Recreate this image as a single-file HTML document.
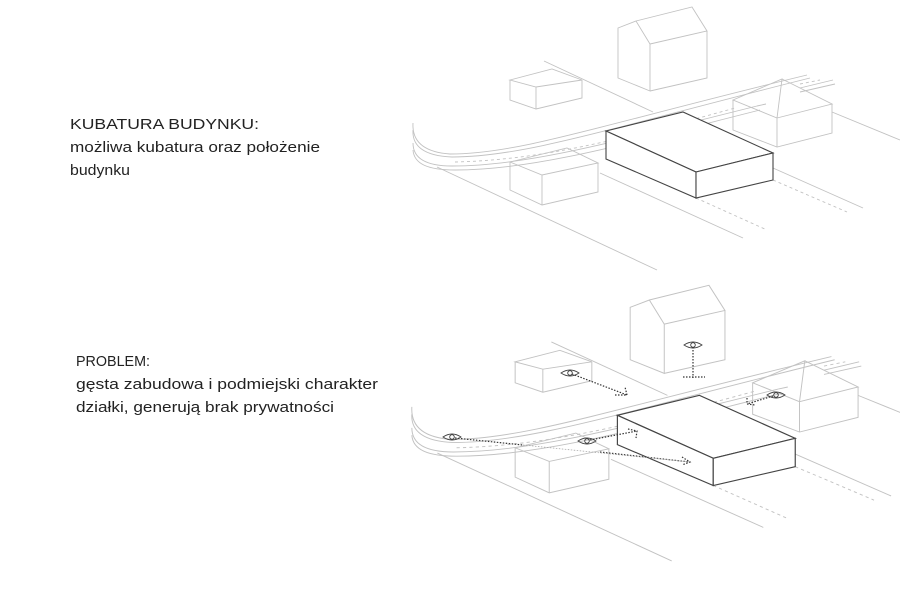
<!DOCTYPE html>
<html><head><meta charset="utf-8"><style>
html,body{margin:0;padding:0;background:#fff;width:900px;height:600px;overflow:hidden}
svg{display:block}
text{font-family:"Liberation Sans",sans-serif;font-size:15px;fill:#222}
</style></head><body>
<svg width="900" height="600" viewBox="0 0 900 600">
<defs>
<g id="scene">
 <g fill="none" stroke="#c2c2c2" stroke-width="0.9">
  <path d="M413,123 C412,140 422,152 450,154 C520,154 600,125 807,75"/>
  <path d="M413,130 C412,146 424,156 452,157 C525,157 610,128 810,78"/>
  <path d="M413,143 C413,158 425,166 452,166 C530,166 620,140 757,106"/>
  <path d="M413,150 C414,164 428,170 455,170 C535,170 625,144 760,110"/>
  <path d="M455,162 C540,160 620,140 735,108" stroke-dasharray="3,3"/>
  <path d="M757,106 L766,104" />
  <path d="M800,88 L833,80 M800,92 L835,84"/>
  <path d="M800,84 L820,80" stroke-dasharray="3,3"/>
  <path d="M437,167 L657,270"/>
  <path d="M600,173 L743,238"/>
  <path d="M773,168 L863,208"/>
  <path d="M696,198 L767,230" stroke-dasharray="3,3"/>
  <path d="M773,180 L847,212" stroke-dasharray="3,3"/>
  <path d="M544,61 L653,112"/>
  <path d="M832,112 L900,140"/>
  <path d="M510,80 L552,69 L582,80 L536,87 Z M510,80 L510,100 L536,109 L582,98 L582,80 M536,87 L536,109"/>
  <path d="M618,28 L636,21 L650,44 L650,91 L618,78 Z M636,21 L692,7 L707,31 L650,44 M707,31 L707,78 L650,91"/>
  <path d="M733,100 L782,79 L777,118 Z M782,79 L832,104 L777,118 M733,100 L733,130 L777,147 L832,133 L832,104 M777,118 L777,147"/>
  <path d="M510,162 L567,148 L598,163 L542,175 Z M510,162 L510,190 L542,205 L598,192 L598,163 M542,175 L542,205"/>
 </g>
 <g fill="#fff" stroke="#444" stroke-width="1.1">
  <path d="M606,131 L683,112 L773,153 L696,172 Z"/>
  <path d="M606,131 L606,159 L696,198 L696,172 Z"/>
  <path d="M696,172 L773,153 L773,180 L696,198 Z"/>
 </g>
</g>
</defs>

<use href="#scene"/>
<g transform="translate(-28,278) scale(1.065,1.048)"><use href="#scene"/></g>

<g fill="none" stroke="#444" stroke-width="0.9">
 <g transform="translate(693,345)"><path d="M-9,0 Q0,-6 9,0 Q0,6 -9,0 Z"/><circle r="2.3"/></g>
 <g transform="translate(570,373)"><path d="M-9,0 Q0,-6 9,0 Q0,6 -9,0 Z"/><circle r="2.3"/></g>
 <g transform="translate(776,395)"><path d="M-9,0 Q0,-6 9,0 Q0,6 -9,0 Z"/><circle r="2.3"/></g>
 <g transform="translate(452,437)"><path d="M-9,0 Q0,-6 9,0 Q0,6 -9,0 Z"/><circle r="2.3"/></g>
 <g transform="translate(587,441)"><path d="M-9,0 Q0,-6 9,0 Q0,6 -9,0 Z"/><circle r="2.3"/></g>
</g>
<g fill="none" stroke="#333" stroke-width="1.2" stroke-dasharray="1.5,1.5">
 <path d="M693,347 L693,378 M683,377 L705,377"/>
 <path d="M572,374 L627,395 M615,395 L627,395 L625,387"/>
 <path d="M773,396 L747,404 M747,398 L747,404 L755,405"/>
 <path d="M455,438 L523,445"/>
 <path d="M590,440 L637,431 M628,429 L637,431 L636,438"/>
 <path d="M600,452 L690,462 M682,457 L690,462 L682,465"/>
</g>
<path d="M523,445 L690,462" fill="none" stroke="#aaa" stroke-width="0.8" stroke-dasharray="1.5,1.5"/>

<text x="70" y="129" textLength="189" lengthAdjust="spacingAndGlyphs">KUBATURA BUDYNKU:</text>
<text x="70" y="152" textLength="250" lengthAdjust="spacingAndGlyphs">możliwa kubatura oraz położenie</text>
<text x="70" y="175" textLength="60" lengthAdjust="spacingAndGlyphs">budynku</text>

<text x="76" y="366" textLength="74" lengthAdjust="spacingAndGlyphs">PROBLEM:</text>
<text x="76" y="389" textLength="302" lengthAdjust="spacingAndGlyphs">gęsta zabudowa i podmiejski charakter</text>
<text x="76" y="412" textLength="258" lengthAdjust="spacingAndGlyphs">działki, generują brak prywatności</text>
</svg>
</body></html>
